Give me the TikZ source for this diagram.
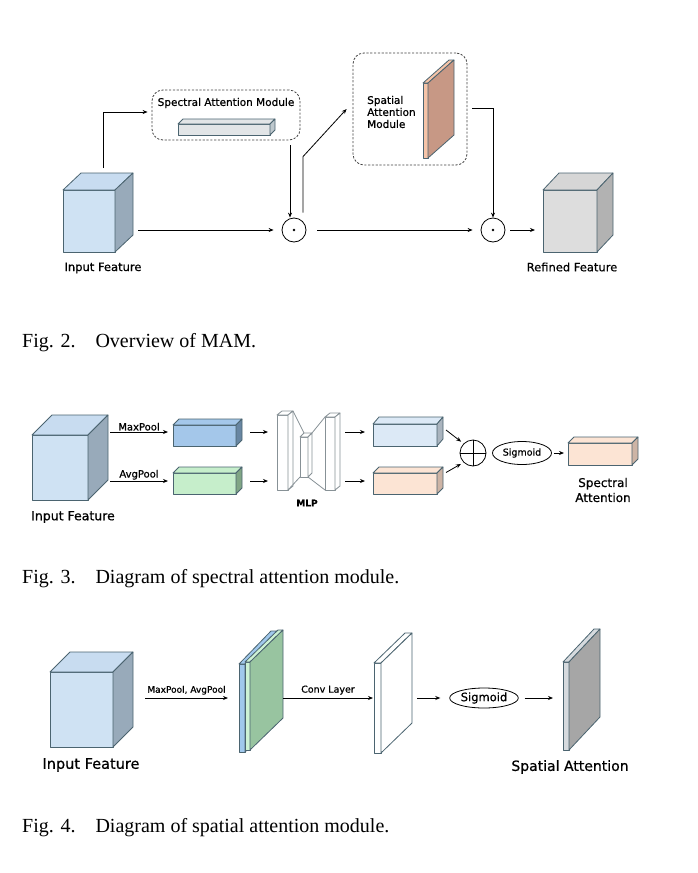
\documentclass[tikz,border=0pt]{standalone}
\usepackage{fontspec}
\setmainfont{Liberation Serif}
\newfontfamily\diagfont[FakeBold=0.7]{DejaVu Sans}
\usepackage{tikz}
\usetikzlibrary{positioning,arrows.meta,shapes.geometric,calc}

\definecolor{edgeC}{RGB}{75,100,112}
\definecolor{mlpC}{RGB}{135,145,150}
\definecolor{cubeF}{RGB}{207,226,243}
\definecolor{cubeT}{RGB}{200,220,240}
\definecolor{cubeS}{RGB}{152,170,186}
\definecolor{grayF}{RGB}{221,221,221}
\definecolor{grayT}{RGB}{214,214,214}
\definecolor{grayS}{RGB}{178,178,178}
\definecolor{barF}{RGB}{226,229,231}
\definecolor{barS}{RGB}{190,200,205}
\definecolor{salF}{RGB}{246,196,168}
\definecolor{salS}{RGB}{199,152,133}
\definecolor{maxF}{RGB}{164,199,234}
\definecolor{maxS}{RGB}{104,134,162}
\definecolor{avgF}{RGB}{198,238,203}
\definecolor{avgS}{RGB}{128,165,133}
\definecolor{lbF}{RGB}{220,233,246}
\definecolor{lbS}{RGB}{170,180,190}
\definecolor{peF}{RGB}{252,228,212}
\definecolor{peS}{RGB}{205,180,165}
\definecolor{stB}{RGB}{160,200,236}
\definecolor{stL}{RGB}{205,242,212}
\definecolor{stG}{RGB}{152,196,160}
\definecolor{pgF}{RGB}{214,218,222}
\definecolor{pgS}{RGB}{166,166,166}

% name, front top-left, width, height, depth x, depth y, front, top, side
\newcommand{\cuboid}[9]{%
  \node[face,fill=#7,minimum width=#3pt,minimum height=#4pt,anchor=north west] (#1) at #2 {};
  \filldraw[faceline,fill=#8] (#1.north west) -- ++(#5,#6) -- ++(#3,0) -- (#1.north east) -- cycle;
  \filldraw[faceline,fill=#9] (#1.north east) -- ++(#5,#6) -- ++(0,#4) -- (#1.south east) -- cycle;
}

\begin{document}
\begin{tikzpicture}[x=1pt,y=-1pt,
  face/.style={draw=edgeC,line width=0.8pt,inner sep=0pt,outer sep=0pt,line join=round},
  faceline/.style={draw=edgeC,line width=0.8pt,line join=round},
  module/.style={draw=black!75,dash pattern=on 2.2pt off 1.6pt,rounded corners=11pt,line width=0.8pt,inner sep=0pt},
  op/.style={draw,circle,inner sep=0pt,line width=0.8pt},
  act/.style={draw,ellipse,inner sep=0pt,line width=0.8pt},
  lbl/.style={font=\diagfont\fontsize{#1}{#1}\selectfont,inner sep=1pt},
  caption/.style={anchor=base west,font=\fontsize{20}{22}\selectfont,inner sep=0pt},
  arr/.style={draw,line width=0.8pt,-{Stealth[length=5pt,width=4pt]}},
]
  \useasboundingbox (0,0) rectangle (697,873);

  % Fig. 2: overview
  \coordinate (rowA) at (0,230);
  \cuboid{cubeA}{(63,190)}{52}{62}{18}{-17}{cubeF}{cubeT}{cubeS}
  \node[lbl=11.5] (labA) at (103,268) {Input Feature};

  \node[module,minimum width=148pt,minimum height=50pt] (sam) at (226,115) {};
  \node[lbl=10.5] (samT) at (226,103) {Spectral Attention Module};
  \cuboid{bar}{(178,124)}{92}{11}{5}{-5}{barF}{barF}{barS}

  \node[module,minimum width=114pt,minimum height=112pt] (spa) at (410,109) {};
  \node[lbl=10.5,font=\diagfont\fontsize{10.5}{12}\selectfont,align=left,anchor=west] (spaT) at (366,112) {Spatial\\Attention\\Module};
  \cuboid{spaP}{(423,83)}{5}{75}{26}{-23}{salF}{salF}{salS}

  \node[op,minimum size=24pt] (mul1) at (294,230) {};
  \node[op,minimum size=24pt] (mul2) at (493,230) {};
  \fill (mul1) circle (1.4pt);
  \fill (mul2) circle (1.4pt);

  \cuboid{cubeR}{(543,190)}{54}{62}{16}{-17}{grayF}{grayT}{grayS}
  \node[lbl=11.5] (labR) at (572,267) {Refined Feature};

  \draw[arr] ([xshift=14pt,yshift=22pt]cubeA.north) |- ([xshift=-4pt,yshift=3pt]sam.west);
  \draw[arr] ([xshift=-4pt,yshift=-5pt]sam.south -| mul1.north) -- ([xshift=-4pt]mul1.north);
  \draw[arr] ([xshift=9pt,yshift=5pt]mul1.north) -- ++(0,-56) -- ([xshift=-6pt]spa.west);
  \draw[arr] ([xshift=5pt,yshift=1pt]spa.east) -| (mul2.north);
  \draw[arr] ([xshift=23pt]cubeA.east |- rowA) -- ([xshift=-8pt]mul1.west);
  \draw[arr] ([xshift=11pt]mul1.east) -- ([xshift=-8pt]mul2.west);
  \draw[arr] ([xshift=5pt]mul2.east) -- ([xshift=-8pt]cubeR.west |- rowA);

  \node[caption] (capA) at (22,347) {Fig. 2.\quad Overview of MAM.};

  % Fig. 3: spectral attention
  \coordinate (rowMax) at (0,432);
  \coordinate (rowAvg) at (0,481);
  \cuboid{cubeB}{(32,435)}{56}{65}{20}{-20}{cubeF}{cubeT}{cubeS}
  \node[lbl=12.5] (labB) at (73,517) {Input Feature};
  \cuboid{maxB}{(173,425)}{63}{21}{6}{-6}{maxF}{maxF}{maxS}
  \cuboid{avgB}{(173,473)}{63}{21}{6}{-6}{avgF}{avgF}{avgS}

  \begin{scope}[face/.append style={draw=mlpC},faceline/.append style={draw=mlpC}]
    \cuboid{mlpL}{(277,415)}{11}{75}{5}{-4}{white}{white}{white}
    \cuboid{mlpM}{(300,437)}{8}{40}{4}{-4}{white}{white}{white}
    \cuboid{mlpR}{(325,417)}{10}{73}{5}{-4}{white}{white}{white}
    \draw[mlpC,line width=0.8pt] ($(mlpL.north east)+(5,-4)$) -- ($(mlpM.north west)+(4,-4)$);
    \draw[mlpC,line width=0.8pt] (mlpL.south east) -- (mlpM.south west);
    \draw[mlpC,line width=0.8pt] ($(mlpM.north east)+(4,-4)$) -- (mlpR.north west);
    \draw[mlpC,line width=0.8pt] (mlpM.south east) -- (mlpR.south west);
  \end{scope}
  \node[lbl=9,font=\diagfont\bfseries\fontsize{9}{9}\selectfont] (mlpT) at (307,503) {MLP};

  \cuboid{outMax}{(373,424)}{64}{22}{6}{-7}{lbF}{lbF}{lbS}
  \cuboid{outAvg}{(373,473)}{64}{21}{6}{-6}{peF}{peF}{peS}
  \node[op,minimum size=26pt] (sumB) at (473,453) {};
  \draw[line width=0.8pt] (sumB.north) -- (sumB.south) (sumB.west) -- (sumB.east);
  \node[act,minimum width=59pt,minimum height=23pt,lbl=9.5] (sigB) at (522,453) {Sigmoid};
  \cuboid{specB}{(568,443)}{64}{22}{6}{-6}{peF}{peF}{peS}
  \node[lbl=12,font=\diagfont\fontsize{12}{15}\selectfont,align=center] (specT) at (603,490) {Spectral\\Attention};

  \draw[arr] ([xshift=22pt]cubeB.east |- rowMax) -- node[lbl=10,above] {MaxPool} ([xshift=-5pt]maxB.west |- rowMax);
  \draw[arr] ([xshift=22pt]cubeB.east |- rowAvg) -- node[lbl=10,above] {AvgPool} ([xshift=-5pt]avgB.west |- rowAvg);
  \draw[arr] ([xshift=14pt]maxB.east |- rowMax) -- ([xshift=-9pt]mlpL.west |- rowMax);
  \draw[arr] ([xshift=14pt]avgB.east |- rowAvg) -- ([xshift=-9pt]mlpL.west |- rowAvg);
  \draw[arr] ([xshift=10pt]mlpR.east |- rowMax) -- ([xshift=-8pt]outMax.west |- rowMax);
  \draw[arr] ([xshift=10pt]mlpR.east |- rowAvg) -- ([xshift=-8pt]outAvg.west |- rowAvg);
  \draw[arr,shorten >=3pt] ([xshift=9pt,yshift=5pt]outMax.east) -- (sumB.135);
  \draw[arr,shorten >=3pt] ([xshift=9pt,yshift=11pt]outAvg.east) -- (sumB.225);
  \draw[arr] ([xshift=2pt]sigB.east) -- ([xshift=-4pt]specB.west |- sigB);

  \node[caption] (capB) at (22,583) {Fig. 3.\quad Diagram of spectral attention module.};

  % Fig. 4: spatial attention
  \coordinate (rowC) at (0,698);
  \cuboid{cubeC}{(50,672)}{63}{75}{20}{-20}{cubeF}{cubeT}{cubeS}
  \node[lbl=14.5] (labC) at (91,765) {Input Feature};
  \cuboid{stkB}{(239,664)}{6}{88}{32}{-33}{stB}{stB}{stB}
  \cuboid{stkG}{(245,662)}{5}{88}{33}{-32}{stL}{stL}{stG}
  \cuboid{wpan}{(374,663)}{7}{90}{31}{-30}{white}{white}{white}
  \node[act,minimum width=66pt,minimum height=20pt,lbl=11.5] (sigC) at (484,698) {Sigmoid};
  \cuboid{gpan}{(563,662)}{6}{88}{31}{-33}{pgF}{pgF}{pgS}
  \node[lbl=14] (labSA) at (570,767) {Spatial Attention};

  \draw[arr] ([xshift=32pt]cubeC.east |- rowC) -- node[lbl=9,above=2pt] {MaxPool, AvgPool} ([xshift=-11pt]stkB.west |- rowC);
  \draw[arr] ([xshift=33pt]stkG.east |- rowC) -- node[lbl=9.5,above=2pt] {Conv Layer} ([xshift=-1pt]wpan.west |- rowC);
  \draw[arr] ([xshift=36pt]wpan.east |- rowC) -- ([xshift=-9pt]sigC.west);
  \draw[arr] ([xshift=6pt]sigC.east) -- ([xshift=-10pt]gpan.west |- rowC);

  \node[caption] (capC) at (22,832) {Fig. 4.\quad Diagram of spatial attention module.};
\end{tikzpicture}
\end{document}
